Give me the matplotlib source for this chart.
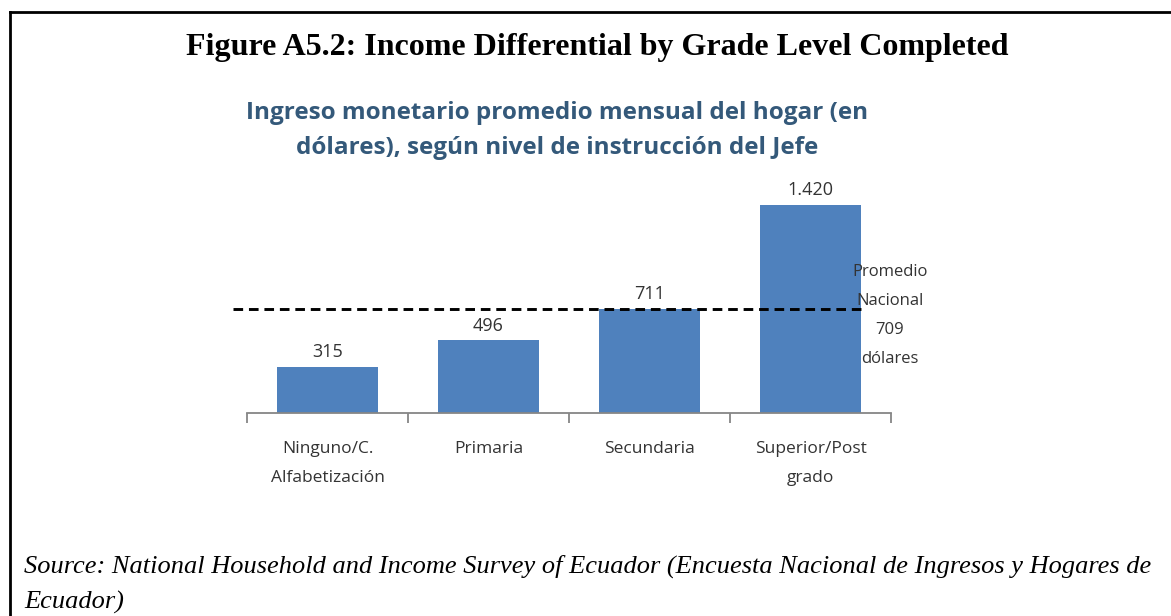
import matplotlib
matplotlib.use('Agg')
import matplotlib.pyplot as plt
from matplotlib.lines import Line2D
import numpy as np

# datos
categories = ['Ninguno/C.\nAlfabetización', 'Primaria', 'Secundaria', 'Superior/Post\ngrado']
values = [315, 496, 711, 1420]
value_labels = ['315', '496', '711', '1.420']
national_avg = 709

W, H = 1171, 616
fig = plt.figure(figsize=(W / 100, H / 100), dpi=100)

def fx(px):
    return px / W

def fy(py):
    return 1 - py / H

# marco (izquierda y arriba)
fig.add_artist(Line2D([fx(10), fx(10)], [fy(12), 0], color='black', lw=2, transform=fig.transFigure))
fig.add_artist(Line2D([fx(10), 1], [fy(12), fy(12)], color='black', lw=2, transform=fig.transFigure))

# titulo
fig.text(fx(597), fy(48), 'Figure A5.2: Income Differential by Grade Level Completed',
         ha='center', va='center', family='Liberation Serif', fontweight='bold', fontsize=23)

# subtitulo
sub_color = '#34597A'
fig.text(fx(557), fy(113), 'Ingreso monetario promedio mensual del hogar (en',
         ha='center', va='center', family='Open Sans', fontweight='bold', fontsize=17.5, color=sub_color)
fig.text(fx(557), fy(148), 'dólares), según nivel de instrucción del Jefe',
         ha='center', va='center', family='Open Sans', fontweight='bold', fontsize=17.5, color=sub_color)

# grafico
ax = fig.add_axes([fx(247), fy(413), fx(891) - fx(247), 1500 * 0.1465 / H])
x = np.arange(len(categories))
bars = ax.bar(x, values, width=0.63, color='#4F81BD')
ax.set_xlim(-0.5, 3.5)
ax.set_ylim(0, 1500)

for b, lab in zip(bars, value_labels):
    ax.annotate(lab, (b.get_x() + b.get_width() / 2, b.get_height()),
                xytext=(0, 4), textcoords='offset points', ha='center', va='bottom',
                family='Open Sans', fontsize=13, color='#333333')

# promedio nacional
ax.plot([-0.59, 3 + 0.315], [national_avg, national_avg], ls=(0, (3.3, 2)), color='black', lw=2.1, clip_on=False)
avg_lines = ['Promedio', 'Nacional', str(national_avg), 'dólares']
for i, t in enumerate(avg_lines):
    fig.text(fx(890), fy(272 + 29 * i), t, ha='center', va='center',
             family='Open Sans', fontsize=12, color='#333333')

for s in ['top', 'right', 'left']:
    ax.spines[s].set_visible(False)
ax.spines['bottom'].set_color('#868686')
ax.spines['bottom'].set_linewidth(1.3)
ax.set_yticks([])
ax.set_xticks(x)
ax.set_xticklabels(categories, family='Open Sans', fontsize=12.5, color='#333333', linespacing=2.1)
ax.tick_params(axis='x', which='major', length=0, pad=20)
ax.set_xticks(np.arange(-0.5, 4, 1), minor=True)
ax.tick_params(axis='x', which='minor', length=7, width=1.3, color='#868686')

# fuente
fig.text(fx(24), fy(566), 'Source: National Household and Income Survey of Ecuador (Encuesta Nacional de Ingresos y Hogares de',
         ha='left', va='center', family='Liberation Serif', style='italic', fontsize=19)
fig.text(fx(24), fy(602), 'Ecuador)',
         ha='left', va='center', family='Liberation Serif', style='italic', fontsize=19)

fig.savefig('out.png', dpi=100)
